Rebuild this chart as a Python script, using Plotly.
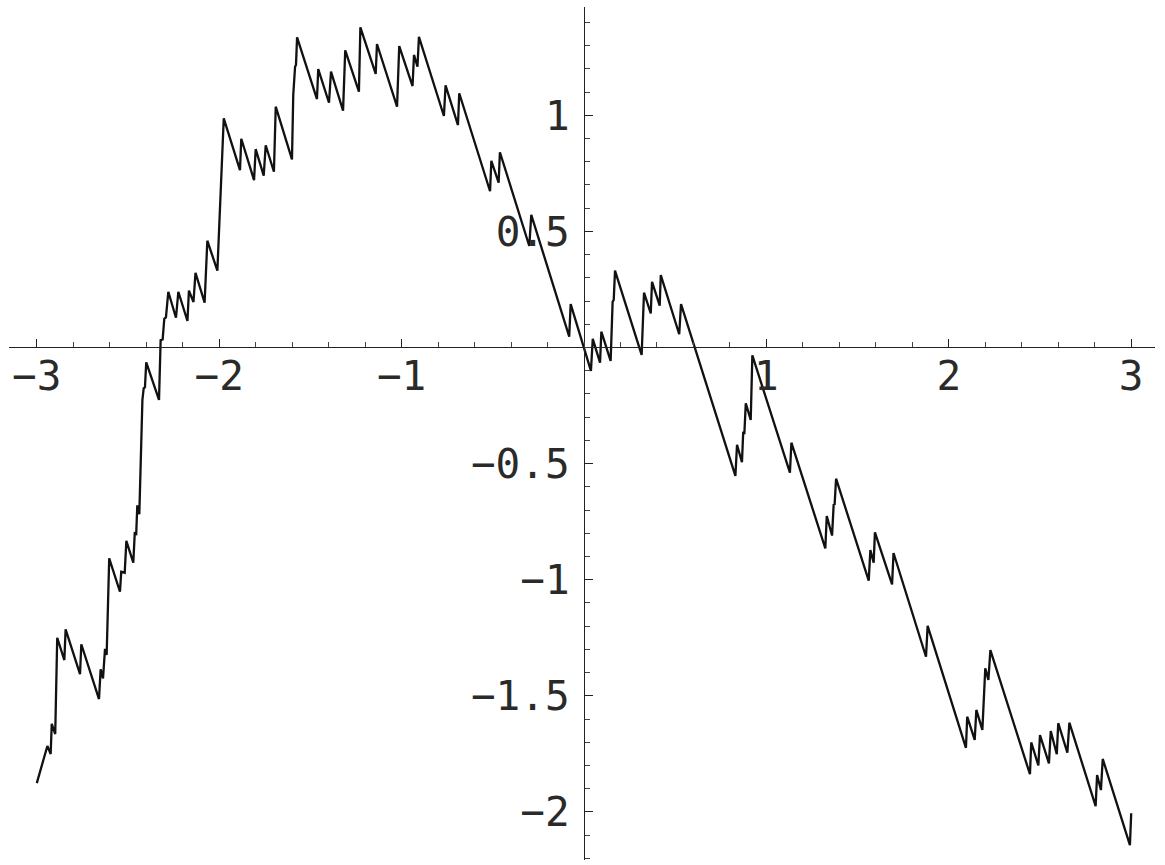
import plotly.graph_objects as go

# vertices of the path (negative side of the axis)
x_left = [-3.0, -2.942, -2.924, -2.918, -2.899, -2.888, -2.849, -2.842, -2.763, -2.756,
          -2.659, -2.650, -2.637, -2.626, -2.617, -2.603, -2.544, -2.537, -2.518, -2.509,
          -2.471, -2.463, -2.455, -2.449, -2.438, -2.430, -2.421, -2.414, -2.407, -2.400,
          -2.330, -2.321, -2.310, -2.301, -2.292, -2.279, -2.237, -2.224, -2.174, -2.166,
          -2.141, -2.130, -2.080, -2.065, -2.010, -1.975, -1.886, -1.879, -1.809, -1.800,
          -1.756, -1.745, -1.700, -1.690, -1.601, -1.594, -1.584, -1.579, -1.573, -1.464,
          -1.457, -1.398, -1.387, -1.321, -1.309, -1.234, -1.226, -1.142, -1.135, -1.025,
          -1.013, -0.940, -0.932, -0.913, -0.905, -0.768, -0.759, -0.691, -0.684, -0.515,
          -0.508, -0.468, -0.461, -0.300, -0.289, -0.081, -0.073]
y_left = [-1.876, -1.716, -1.751, -1.621, -1.665, -1.250, -1.346, -1.214, -1.407, -1.278,
          -1.514, -1.386, -1.425, -1.298, -1.324, -0.908, -1.052, -0.966, -0.970, -0.833,
          -0.927, -0.800, -0.803, -0.680, -0.718, -0.434, -0.226, -0.176, -0.171, -0.064,
          -0.226, 0.032, 0.035, 0.124, 0.130, 0.240, 0.128, 0.240, 0.114, 0.245,
          0.196, 0.322, 0.193, 0.460, 0.331, 0.987, 0.764, 0.899, 0.721, 0.854,
          0.740, 0.871, 0.757, 1.037, 0.810, 1.087, 1.209, 1.217, 1.336, 1.070,
          1.199, 1.054, 1.188, 1.020, 1.280, 1.102, 1.379, 1.178, 1.307, 1.037,
          1.298, 1.126, 1.260, 1.209, 1.338, 0.997, 1.129, 0.958, 1.095, 0.673,
          0.804, 0.710, 0.841, 0.437, 0.571, 0.047, 0.187]

# positive side
x_right = [0.038, 0.048, 0.088, 0.095, 0.146, 0.157, 0.163, 0.170, 0.316, 0.329,
           0.366, 0.373, 0.415, 0.421, 0.522, 0.532, 0.830, 0.839, 0.866, 0.873,
           0.879, 0.887, 0.914, 0.923, 1.129, 1.137, 1.323, 1.331, 1.360, 1.369,
           1.374, 1.382, 1.561, 1.570, 1.588, 1.595, 1.689, 1.697, 1.875, 1.884,
           2.094, 2.101, 2.142, 2.151, 2.184, 2.193, 2.200, 2.217, 2.228, 2.445,
           2.452, 2.491, 2.500, 2.549, 2.559, 2.592, 2.600, 2.650, 2.661, 2.805,
           2.813, 2.834, 2.844, 2.993, 3.0]
y_right = [-0.101, 0.037, -0.065, 0.068, -0.058, 0.197, 0.205, 0.331, -0.032, 0.236,
           0.147, 0.283, 0.180, 0.312, 0.057, 0.187, -0.553, -0.419, -0.494, -0.363,
           -0.373, -0.240, -0.312, -0.034, -0.539, -0.410, -0.865, -0.726, -0.810, -0.674,
           -0.678, -0.565, -1.004, -0.872, -0.927, -0.796, -1.020, -0.885, -1.332, -1.199,
           -1.724, -1.590, -1.690, -1.561, -1.647, -1.518, -1.382, -1.432, -1.303, -1.838,
           -1.701, -1.800, -1.669, -1.791, -1.652, -1.752, -1.618, -1.745, -1.616, -1.975,
           -1.841, -1.906, -1.772, -2.143, -2.006]

x_ticks = [-3, -2, -1, 1, 2, 3]
x_labels = ["−3", "−2", "−1", "1", "2", "3"]
y_ticks = [-2, -1.5, -1, -0.5, 0.5, 1]
y_labels = ["−2", "−1.5", "−1", "−0.5", "0.5", "1"]

x_rng = [-3.1524, 3.1305]
y_rng = [-2.2072, 1.4664]

fig = go.Figure()
fig.add_trace(go.Scatter(x=x_left + x_right, y=y_left + y_right, mode="lines",
                         line=dict(color="#111", width=2.3), hoverinfo="skip"))

font = dict(family="DejaVu Sans Mono", size=41, color="#2a2a2a")
fig.update_layout(
    width=1165, height=865,
    margin=dict(l=9, r=10, t=7, b=5),
    paper_bgcolor="white", plot_bgcolor="white",
    showlegend=False,
    xaxis=dict(range=x_rng, anchor="free", automargin=False,
               position=(0 - y_rng[0]) / (y_rng[1] - y_rng[0]),
               showgrid=False, zeroline=False, showline=True,
               linecolor="#222", linewidth=1.2,
               tickmode="array", tickvals=x_ticks, ticktext=x_labels,
               ticks="inside", ticklen=8, tickwidth=1, tickcolor="#222",
               ticklabelstandoff=-8, tickfont=font,
               minor=dict(tickmode="linear", tick0=0, dtick=0.2, ticks="inside",
                          ticklen=5, tickwidth=1, tickcolor="#444", showgrid=False)),
    yaxis=dict(range=y_rng, anchor="free", automargin=False,
               position=(0 - x_rng[0]) / (x_rng[1] - x_rng[0]),
               showgrid=False, zeroline=False, showline=True,
               linecolor="#222", linewidth=1.2,
               tickmode="array", tickvals=y_ticks, ticktext=y_labels,
               ticks="inside", ticklen=8, tickwidth=1, tickcolor="#222",
               ticklabelstandoff=6, tickfont=font,
               minor=dict(tickmode="linear", tick0=0, dtick=0.1, ticks="inside",
                          ticklen=5, tickwidth=1, tickcolor="#444", showgrid=False)),
)

# the page's default body margin would shift the chart by 8px
fig.write_html("out.html", config={"displayModeBar": False},
               post_script="document.body.style.margin='0';")
